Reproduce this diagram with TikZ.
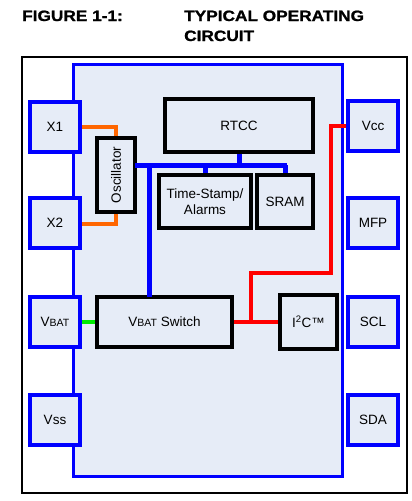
\documentclass[tikz,border=0pt]{standalone}
\usepackage{fontspec}
\setmainfont{Liberation Sans}
\newfontfamily\titlefont[FakeBold=1.2]{Liberation Sans Bold}
\usetikzlibrary{calc}
\definecolor{chipfill}{RGB}{230,236,247}
\definecolor{pinblue}{RGB}{0,0,255}
\definecolor{orangeline}{RGB}{255,102,0}
\definecolor{greenline}{RGB}{0,235,0}
\definecolor{redline}{RGB}{255,0,0}
\begin{document}
\begin{tikzpicture}[x=1pt,y=-1pt,
  pinbox/.style={draw=pinblue,line width=4pt,fill=chipfill,minimum width=50pt,minimum height=50pt,inner sep=0pt,font=\fontsize{13.5}{15}\selectfont},
  blockbox/.style={draw=black,line width=3.5pt,fill=chipfill,inner sep=0pt,font=\fontsize{13.5}{15.5}\selectfont,align=center},
  titletext/.style={anchor=base west,inner sep=0pt,font=\fontsize{15}{18}\titlefont},
  bus/.style={draw=pinblue,line width=5pt},
  osc/.style={draw=orangeline,line width=4pt},
  vbatline/.style={draw=greenline,line width=4pt},
  pwr/.style={draw=redline,line width=4.5pt}]
\useasboundingbox (0,0) rectangle (412,501);
\fill[white] (0,0) rectangle (412,501);
% title
\node[titletext] (t1) at (22,21) {\scalebox{1.15}[1]{FIGURE 1-1:}};
\node[titletext] (t2) at (184,21) {\scalebox{1.15}[1]{TYPICAL OPERATING}};
\node[titletext] (t3) at (184,41) {\scalebox{1.15}[1]{CIRCUIT}};
% frame
\draw[black,line width=1.2pt] (22,57) rectangle (407,493);
% chip
\draw[pinblue,line width=3pt,fill=chipfill] (73,64) rectangle (342,476);
% pins
\node[pinbox] (x1) at (55,126.5) {X1};
\node[pinbox] (x2) at (55,223) {X2};
\node[pinbox] (vbat) at (55,322) {V{\fontsize{10.5}{12}\selectfont BAT}};
\node[pinbox] (vss) at (55,419.5) {Vss};
\node[pinbox] (vcc) at (373,126) {Vcc};
\node[pinbox] (mfp) at (373,223) {MFP};
\node[pinbox] (scl) at (373,322) {SCL};
\node[pinbox] (sda) at (373,419.5) {SDA};
% blocks
\node[blockbox,minimum width=38pt,minimum height=74pt] (oscb) at (116,175) {\rotatebox{90}{Oscillator}};
\node[blockbox,minimum width=148pt,minimum height=53pt] (rtcc) at (239,125.5) {RTCC};
\node[blockbox,minimum width=92pt,minimum height=53pt] (ts) at (205,201.5) {Time-Stamp/\\Alarms};
\node[blockbox,minimum width=56pt,minimum height=53pt] (sram) at (285,201.5) {SRAM};
\node[blockbox,minimum width=135pt,minimum height=50pt] (sw) at (164.5,322) {V{\fontsize{10.5}{12}\selectfont BAT} Switch};
\node[blockbox,minimum width=57pt,minimum height=54pt] (i2c) at (308.5,322) {I\textsuperscript{2}C™};
% connectors
\coordinate (busL) at (135,165);
\coordinate (busR) at (287,165);
\coordinate (swtop) at (149,297);
\draw[bus] (busL) -- (busR);
\draw[bus] (rtcc.south) -- (rtcc.south |- busL);
\draw[bus] (busL -| ts.north) -- (ts.north);
\draw[bus] (busL -| sram.north) -- (sram.north);
\draw[bus] (swtop |- busL) -- (swtop);
\draw[osc] (x1.east) -| (oscb.north);
\draw[osc] (x2.east |- 0,224) -| (oscb.south);
\draw[vbatline] (vbat.east) -- (sw.west);
\coordinate (rj) at (251,322);
\coordinate (rk) at (331,273);
\draw[pwr] (sw.east) -- (i2c.west);
\draw[pwr] (rj) |- (rk) |- (vcc.west);
\end{tikzpicture}
\end{document}
